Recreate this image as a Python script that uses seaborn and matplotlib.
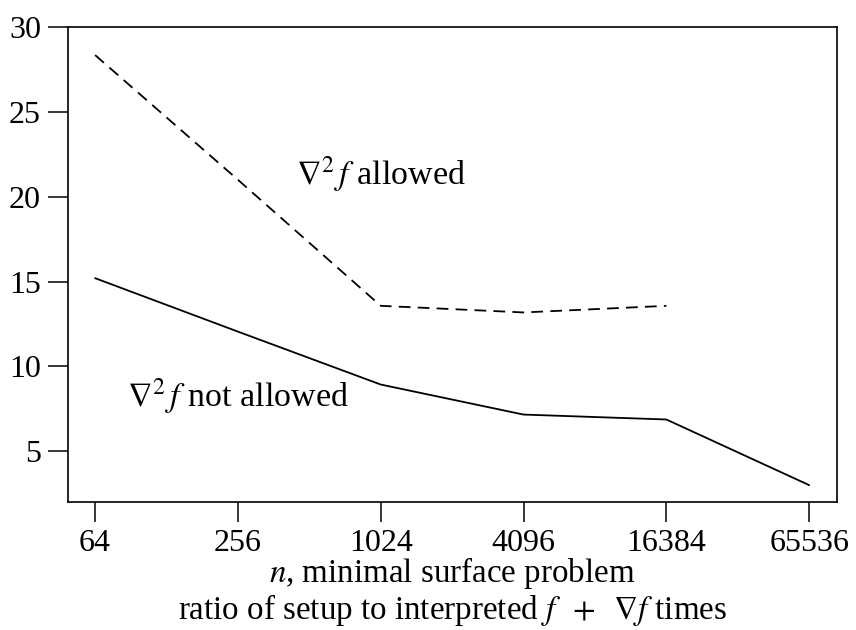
import numpy as np
import pandas as pd
import matplotlib
matplotlib.use('Agg')
import matplotlib.pyplot as plt
import seaborn as sns

# problem sizes (x axis) and speed ratios
n_values = [64, 256, 1024, 4096, 16384, 65536]
hess_not_allowed = [15.2, 12.05, 8.93, 7.16, 6.87, 3.0]
hess_allowed = [28.35, 21.0, 13.57, 13.18, 13.57, np.nan]
y_ticks = [5, 10, 15, 20, 25, 30]


def make_plot():
    sns.set_style("ticks")
    plt.rcParams['font.family'] = ['Liberation Serif', 'DejaVu Serif']
    plt.rcParams['mathtext.fontset'] = 'stix'
    plt.rcParams['font.size'] = 23
    plt.rcParams['text.color'] = 'black'
    plt.rcParams['axes.labelcolor'] = 'black'

    df = pd.DataFrame({
        'n': n_values * 2,
        'ratio': hess_not_allowed + hess_allowed,
        'case': ['not allowed'] * 6 + ['allowed'] * 6,
    }).dropna()

    fig = plt.figure(figsize=(8.56, 6.30), dpi=100)
    ax = fig.add_axes([0.0794, 0.203, 0.8986, 0.754])

    sns.lineplot(data=df, x='n', y='ratio', style='case',
                 style_order=['not allowed', 'allowed'],
                 dashes={'not allowed': '', 'allowed': (6.5, 4)},
                 color='black', linewidth=1.3, legend=False, ax=ax)

    ax.set_xscale('log', base=4)
    ax.set_xlim(64 / 4 ** 0.19, 65536 * 4 ** 0.196)
    ax.set_ylim(2, 30)
    ax.set_xticks(n_values)
    ax.set_xticklabels([str(v) for v in n_values])
    ax.minorticks_off()
    ax.set_yticks(y_ticks)
    ax.tick_params(axis='both', length=14.4, width=1.1, pad=5,
                   labelsize=23, color='black', labelcolor='black')

    for side in ['left', 'right', 'top', 'bottom']:
        ax.spines[side].set_visible(True)
        ax.spines[side].set_color('black')
        ax.spines[side].set_linewidth(1.2)

    ax.set_xlabel("$n$, minimal surface problem\n"
                  "ratio of setup to interpreted $f\\;\\;+\\;\\;\\nabla f$ times",
                  fontsize=23.8, linespacing=1.02, color='black')
    ax.xaxis.set_label_coords(0.5, -0.112)
    ax.xaxis.label.set_va('top')
    ax.set_ylabel('')

    ax.text(1024, 21.3, "$\\nabla^{2}\\,f$ allowed", ha='center', va='center',
            fontsize=24.5, color='black')
    ax.text(256, 8.2, "$\\nabla^{2}\\,f$ not allowed", ha='center', va='center',
            fontsize=24.5, color='black')

    fig.savefig('out.png', dpi=100)


if __name__ == "__main__":
    make_plot()
